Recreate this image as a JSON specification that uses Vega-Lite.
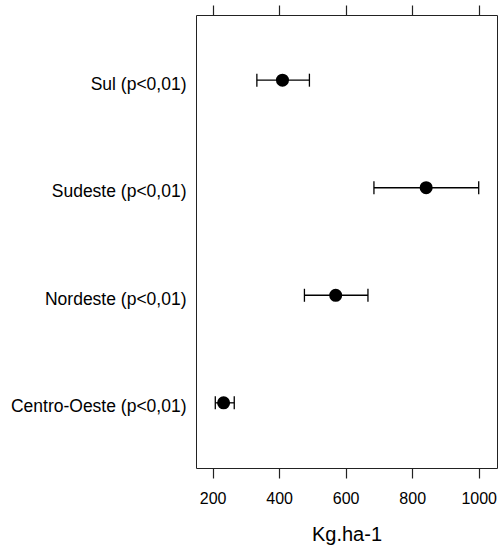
{
  "$schema": "https://vega.github.io/schema/vega-lite/v6.json",
  "width": 301,
  "height": 453,
  "autosize": {"type": "none"},
  "padding": {"left": 196, "top": 15, "right": 1, "bottom": 78},
  "config": {
    "view": {"stroke": "#222", "strokeWidth": 1},
    "font": "Liberation Sans",
    "axis": {"grid": false, "domain": false, "tickColor": "#222", "labelColor": "#000", "titleColor": "#000", "tickWidth": 1.2}
  },
  "data": {
    "values": [
      {"regiao": "Sul (p<0,01)", "media": 410, "lo": 333, "hi": 491},
      {"regiao": "Sudeste (p<0,01)", "media": 842, "lo": 685, "hi": 1000},
      {"regiao": "Nordeste (p<0,01)", "media": 570, "lo": 476, "hi": 667},
      {"regiao": "Centro-Oeste (p<0,01)", "media": 233, "lo": 208, "hi": 265}
    ]
  },
  "encoding": {
    "y": {
      "field": "regiao",
      "type": "nominal",
      "sort": null,
      "scale": {"type": "point", "padding": 0.606},
      "axis": {"title": null, "ticks": false, "domain": false, "labelFontSize": 17.5, "labelPadding": 10, "labelFont": "Liberation Sans", "labelOffset": 4}
    }
  },
  "layer": [
    {
      "mark": {"type": "rule", "color": "#000", "strokeWidth": 1.3},
      "encoding": {
        "x": {
          "field": "lo",
          "type": "quantitative",
          "scale": {"domain": [150, 1055], "nice": false, "zero": false},
          "axis": {"orient": "bottom", "values": [200, 400, 600, 800, 1000], "format": "d", "title": "Kg.ha-1", "tickSize": 10, "labelFontSize": 16, "labelPadding": 12, "titleFontSize": 20, "titleFontWeight": "normal", "titlePadding": 18, "labelFlush": false}
        },
        "x2": {"field": "hi"}
      }
    },
    {
      "mark": {"type": "tick", "color": "#000", "thickness": 1.3, "size": 13, "opacity": 1},
      "encoding": {
        "x": {
          "field": "lo",
          "type": "quantitative",
          "axis": {"orient": "top", "values": [200, 400, 600, 800, 1000], "labels": false, "title": null, "tickSize": 10}
        }
      }
    },
    {
      "mark": {"type": "tick", "color": "#000", "thickness": 1.3, "size": 13, "opacity": 1},
      "encoding": {
        "x": {"field": "hi", "type": "quantitative", "axis": null}
      }
    },
    {
      "mark": {"type": "point", "filled": true, "color": "#000", "size": 170, "opacity": 1},
      "encoding": {
        "x": {"field": "media", "type": "quantitative", "axis": null}
      }
    }
  ],
  "resolve": {"axis": {"x": "independent"}}
}
